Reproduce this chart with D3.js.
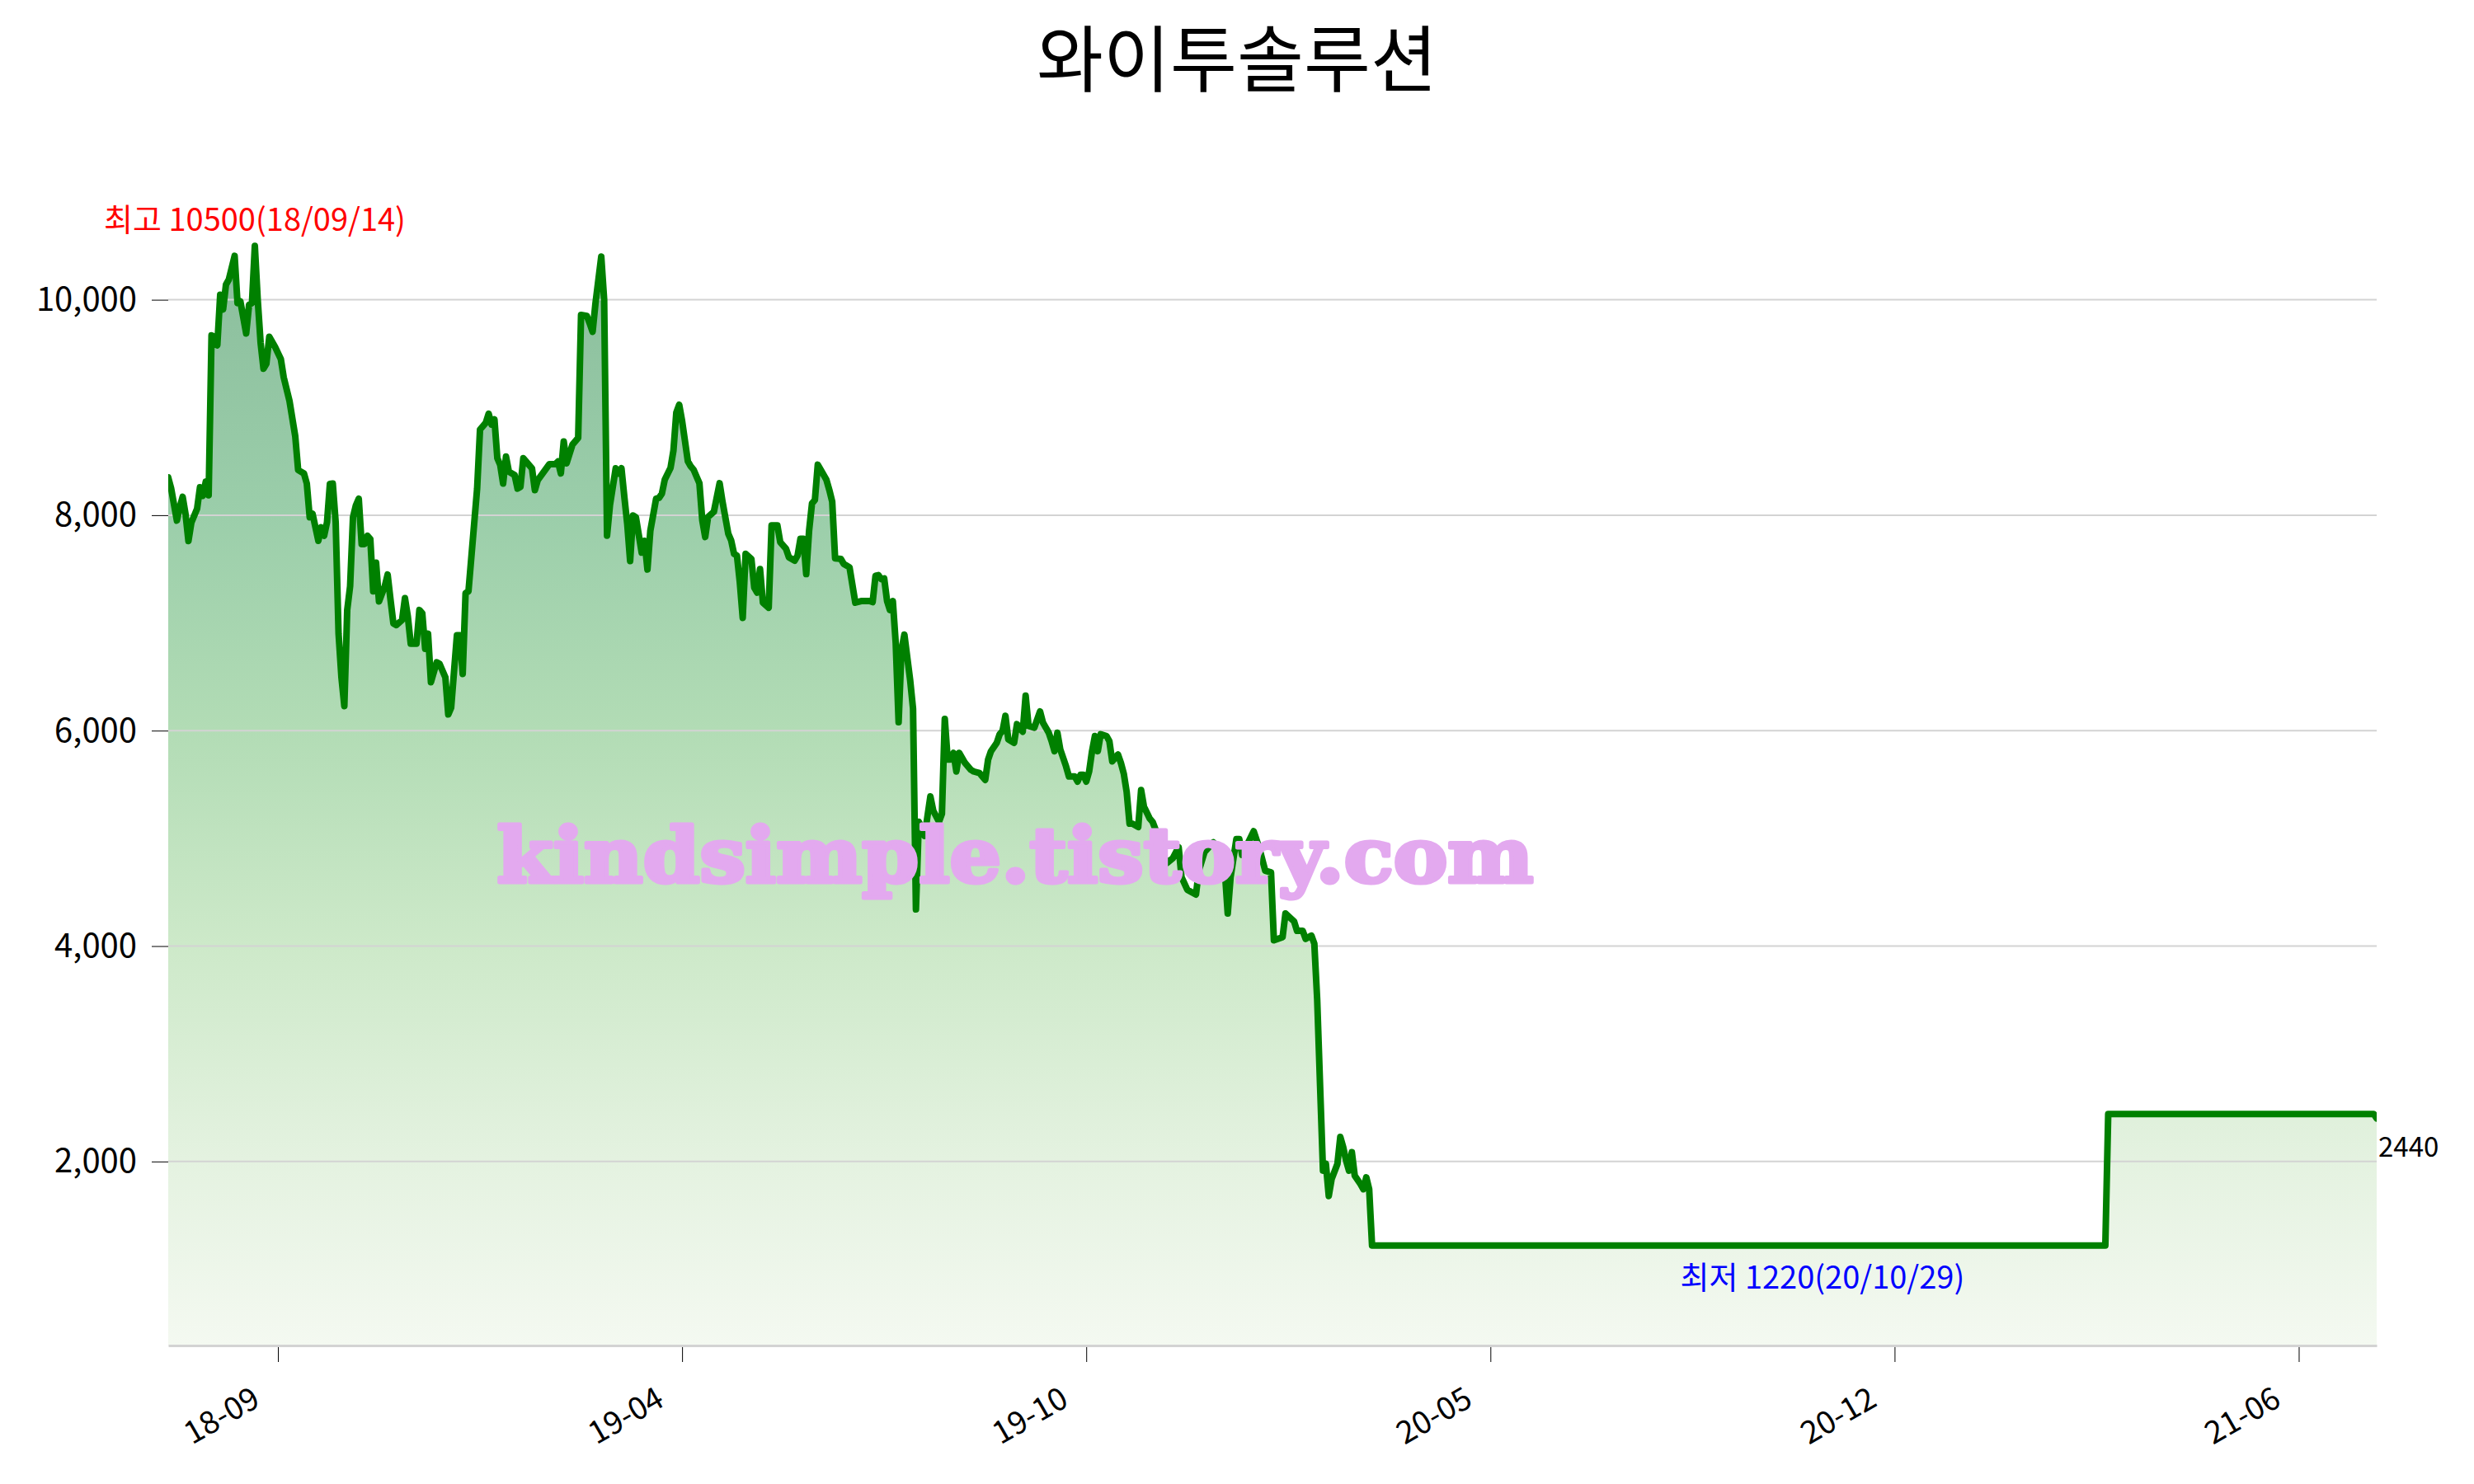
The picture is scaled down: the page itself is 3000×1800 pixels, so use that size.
<!DOCTYPE html>
<html><head><meta charset="utf-8">
<script src="https://cdn.jsdelivr.net/npm/d3@7"></script>
<style>body{margin:0;background:#fff} svg{display:block}</style>
</head><body><svg id="chart" width="3000" height="1800"></svg>
<script>
// ---- data (vertex index = trading-day number, value = close price) ----
const dayIndex = [0,1,3,4,5,6,7,8,10,11,12,13,14,15,16,17,18,19,20,21,23,24,25,27,28,29,30,31,32,33,34,35,37,39,40,42,44,45,47,48,49,50,52,53,54,55,56,57,58,59,60,61,62,63,64,65,66,67,68,69,70,71,72,73,75,76,77,78,79,81,82,83,84,86,87,88,89,90,91,93,94,96,97,98,100,101,102,103,104,107,108,110,111,112,113,114,115,116,117,118,120,121,122,123,126,127,128,132,134,135,136,137,138,140,142,143,145,146,147,148,150,151,152,153,155,156,157,158,159,160,161,162,164,165,166,167,169,170,171,172,174,175,176,177,178,179,180,181,182,183,184,185,186,187,189,191,192,194,195,196,197,198,199,200,202,203,204,205,206,208,209,211,212,214,215,217,218,219,220,221,222,223,224,225,226,228,229,230,231,233,234,236,238,240,243,244,245,246,247,248,249,250,251,252,253,254,255,257,258,259,260,261,262,264,265,267,268,269,270,271,272,273,274,276,278,279,281,283,284,285,287,288,289,290,291,293,294,296,297,298,300,302,303,305,306,307,308,309,310,311,312,314,315,316,317,318,319,320,321,322,323,325,326,327,329,330,331,332,333,334,336,337,338,340,341,342,344,346,348,350,351,353,356,357,359,362,364,366,367,368,370,371,372,376,378,380,382,383,386,387,390,391,393,394,396,397,398,399,400,401,402,403,405,406,407,408,409,410,411,413,414,415,416,417,671,672,764,765];
const closePrice = [8350,8250,7950,8075,8170,8010,7760,7930,8060,8260,8180,8310,8185,9670,9656,9577,10047,9910,10140,10188,10407,9969,9984,9687,9953,9969,10500,10000,9600,9360,9405,9656,9562,9450,9280,9061,8732,8419,8388,8294,7981,8012,7762,7887,7809,7934,8290,8294,7934,6901,6494,6228,7120,7340,7981,8091,8153,7731,7731,7809,7778,7293,7559,7199,7340,7449,7215,6995,6980,7027,7230,7058,6807,6807,7120,7089,6760,6900,6450,6635,6620,6494,6150,6213,6886,6886,6526,7277,7293,8247,8795,8858,8942,8842,8889,8529,8466,8294,8544,8404,8372,8247,8263,8529,8435,8232,8325,8473,8473,8498,8388,8685,8482,8654,8717,9859,9850,9781,9703,9969,10400,10000,7810,8091,8435,8388,8435,8169,7919,7574,7997,7981,7653,7762,7496,7856,8153,8160,8200,8330,8440,8600,8953,9025,8875,8688,8500,8453,8422,8359,8297,7950,7797,7984,8031,8297,8125,7828,7766,7641,7625,7375,7047,7641,7594,7328,7281,7500,7188,7141,7906,7906,7750,7688,7609,7578,7625,7781,7781,7453,7859,8109,8141,8469,8422,8328,8234,8125,7600,7594,7547,7516,7188,7203,7203,7193,7438,7444,7406,7413,7203,7119,7203,6813,6078,6750,6891,6469,6203,4340,5154,5100,5022,5389,5257,5154,5228,6109,5731,5731,5793,5621,5793,5700,5637,5621,5606,5543,5731,5809,5887,5966,5997,6138,5919,5887,6060,5990,6325,6044,6028,6178,6075,5981,5903,5809,5981,5825,5747,5668,5574,5574,5527,5590,5590,5527,5621,5809,5950,5809,5966,5950,5903,5715,5778,5700,5600,5430,5136,5136,5105,5449,5293,5183,5152,5081,4875,4772,4816,4919,4640,4523,4479,4699,4875,4963,4904,4699,4302,4640,4993,4993,4846,5066,4904,4699,4684,4053,4082,4302,4229,4141,4141,4067,4097,4023,3500,2700,1915,1980,1680,1837,1978,2228,2134,2009,1915,2087,1868,1790,1743,1853,1743,1220,1220,2440,2440,2400];
const totalDays = 766;
const tickIndex = [38,178,318,458,598,738];
const tickLabels = ['18-09','19-04','19-10','20-05','20-12','21-06'];
const yTickValues = [2000,4000,6000,8000,10000];
const titleText = '와이투솔루션';
const highDate = '18/09/14';
const lowDate = '20/10/29';
const lowDayIndex = 573;
const lastLabelValue = 2440;
const watermark = 'kindsimple.tistory.com';

// ---- layout ----
const W = 3000, H = 1800;
const m = {top:177, right:118, bottom:168, left:204};
const FONT = "'Noto Sans CJK KR','Noto Sans',sans-serif";
const svg = d3.select('#chart');

const data = dayIndex.map((d,i)=>({i:d, v:closePrice[i]}));
const vmax = d3.max(closePrice), vmin = d3.min(closePrice);
const pad = (vmax - vmin) * 0.1;

const x = d3.scaleLinear().domain([0, totalDays-1]).range([m.left, W - m.right]);
const y = d3.scaleLinear().domain([vmin - pad, vmax + pad]).range([H - m.bottom, m.top]);

// gradient
const defs = svg.append('defs');
const grad = defs.append('linearGradient').attr('id','areaGrad')
  .attr('gradientUnits','userSpaceOnUse')
  .attr('x1',0).attr('x2',0).attr('y1', y(vmax)).attr('y2', y.range()[0]);
[[0,'#8abd9c'],[0.245,'#9bceaa'],[0.44,'#b2dcb5'],[0.636,'#cde9c9'],[0.83,'#e4f2e0'],[1,'#f4f9f1']]
  .forEach(([o,c])=>grad.append('stop').attr('offset',o).attr('stop-color',c));
defs.append('clipPath').attr('id','plotClip').append('rect')
  .attr('x', m.left).attr('y', 0).attr('width', W - m.left - m.right).attr('height', H - m.bottom);

// area
const area = d3.area().x(d=>x(d.i)).y0(y.range()[0]).y1(d=>y(d.v));
svg.append('path').datum(data).attr('d', area).attr('fill','url(#areaGrad)');

// grid
svg.append('g').selectAll('line').data(yTickValues).join('line')
  .attr('x1', m.left).attr('x2', W - m.right)
  .attr('y1', d=>y(d)).attr('y2', d=>y(d))
  .attr('stroke','#d3d3d3').attr('stroke-width',2);

// line
const line = d3.line().x(d=>x(d.i)).y(d=>y(d.v));
svg.append('path').datum(data).attr('d', line)
  .attr('fill','none').attr('stroke','#008000').attr('stroke-width',8)
  .attr('stroke-linejoin','round').attr('stroke-linecap','round')
  .attr('clip-path','url(#plotClip)');

// y axis
const yAxis = svg.append('g').attr('transform',`translate(${m.left},0)`)
  .call(d3.axisLeft(y).tickValues(yTickValues).tickFormat(d3.format(',')).tickSize(20).tickPadding(18).tickSizeOuter(0));
yAxis.select('.domain').remove();
yAxis.selectAll('.tick line').attr('stroke','#000');
yAxis.selectAll('text').attr('font-family',FONT).attr('font-size',40).attr('fill','#000');

// x axis
const xAxis = svg.append('g').attr('transform',`translate(0,${H - m.bottom})`)
  .call(d3.axisBottom(x).tickValues(tickIndex).tickFormat((d,i)=>tickLabels[i]).tickSize(20).tickSizeOuter(0));
xAxis.select('.domain').attr('stroke','#d3d3d3').attr('stroke-width',3);
xAxis.selectAll('.tick line').attr('stroke','#000').attr('y1',2);
xAxis.selectAll('text').attr('font-family',FONT).attr('font-size',38).attr('fill','#000')
  .attr('y',0).attr('dy',0).attr('text-anchor','end')
  .attr('transform','translate(-20,72) rotate(-30)');

// title
svg.append('text').attr('x', W/2).attr('y', 104).attr('text-anchor','middle')
  .attr('font-family',FONT).attr('font-size',88).attr('fill','#000').text(titleText);

// high / low / last labels
const hiIdx = dayIndex[closePrice.indexOf(vmax)];
svg.append('text').attr('x', x(hiIdx)).attr('y', y(vmax) - 18).attr('text-anchor','middle')
  .attr('font-family',FONT).attr('font-size',38).attr('fill','red')
  .text(`최고 ${vmax}(${highDate})`);
svg.append('text').attr('x', x(lowDayIndex)).attr('y', y(vmin) + 52).attr('text-anchor','middle')
  .attr('font-family',FONT).attr('font-size',38).attr('fill','blue')
  .text(`최저 ${vmin}(${lowDate})`);
const last = data[data.length-1];
svg.append('text').attr('x', x(last.i) + 2).attr('y', y(last.v) + 46).attr('text-anchor','start')
  .attr('font-family',FONT).attr('font-size',33).attr('fill','#000').text(lastLabelValue);

// watermark
svg.append('text').attr('x', 1231).attr('y', 1070).attr('text-anchor','middle')
  .attr('font-family',"'DejaVu Serif',serif").attr('font-weight','bold').attr('font-size',92)
  .attr('textLength',1257).attr('lengthAdjust','spacingAndGlyphs')
  .attr('fill','#e3a9ef').attr('stroke','#e3a9ef').attr('stroke-width',5).attr('stroke-linejoin','round')
  .text(watermark);
</script></body></html>
